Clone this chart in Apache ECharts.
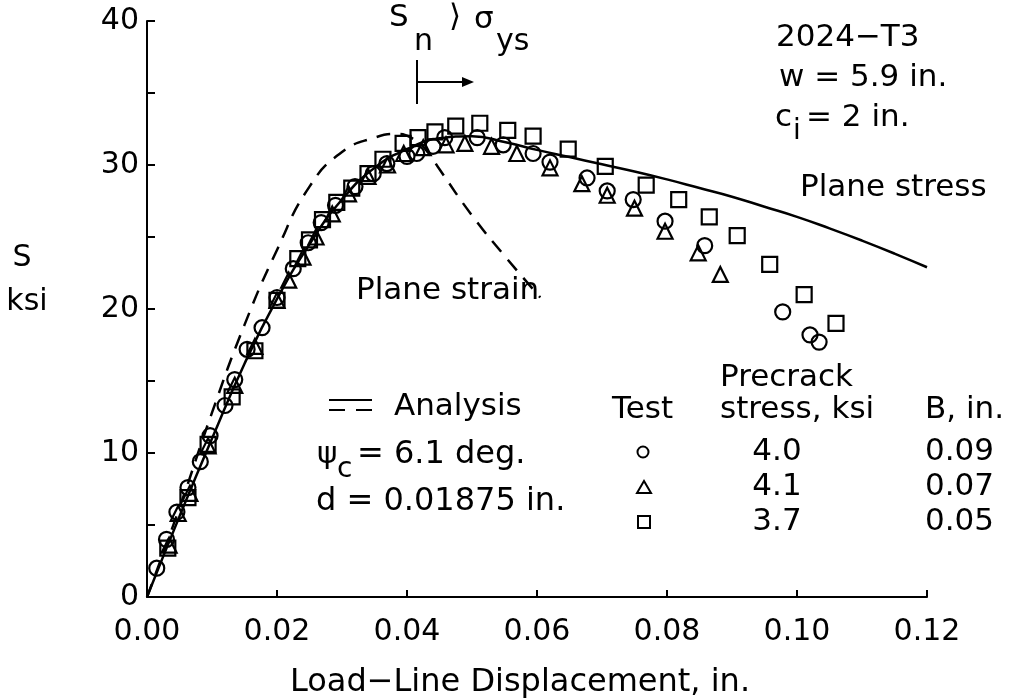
<!DOCTYPE html>
<html><head><meta charset="utf-8">
<script src="https://cdn.jsdelivr.net/npm/echarts@6/dist/echarts.min.js"></script>
<style>html,body{margin:0;padding:0;background:#fff}#c{width:1010px;height:698px}</style>
</head><body><div id="c"></div>
<script>
// Analysis curves
const planeStress = [[0,0],[0.005,5.6],[0.01,11.0],[0.015,16.2],[0.02,20.7],[0.025,24.5],[0.03,27.6],[0.035,29.8],[0.04,31.1],[0.045,31.85],[0.05,32.0],[0.055,31.6],[0.06,31.05],[0.065,30.55],[0.07,30.05],[0.075,29.55],[0.08,29.0],[0.085,28.4],[0.09,27.8],[0.095,27.1],[0.10,26.4],[0.105,25.6],[0.11,24.75],[0.115,23.85],[0.12,22.9]];
const planeStrain = [[0,0],[0.005,6.2],[0.01,12.8],[0.015,18.9],[0.02,24.1],[0.025,28.5],[0.03,30.9],[0.035,31.9],[0.0385,32.15],[0.041,31.8],[0.043,31.0],[0.045,29.7],[0.05,26.5],[0.055,23.7],[0.0605,20.8]];
// Test data
const testCircle = [[0.0015,2.0],[0.0030,4.0],[0.0046,5.9],[0.0063,7.6],[0.0082,9.4],[0.0097,11.2],[0.0120,13.3],[0.0135,15.1],[0.0154,17.2],[0.0177,18.7],[0.0200,20.8],[0.0225,22.8],[0.0248,24.6],[0.0268,26.0],[0.0290,27.2],[0.0320,28.5],[0.0348,29.4],[0.0369,30.1],[0.0400,30.6],[0.0415,30.8],[0.0440,31.3],[0.0458,31.9],[0.0508,31.9],[0.0548,31.4],[0.0594,30.8],[0.0620,30.2],[0.0677,29.1],[0.0708,28.2],[0.0748,27.6],[0.0797,26.1],[0.0858,24.4],[0.0978,19.8],[0.1020,18.2],[0.1034,17.7]];
const testTriangle = [[0.0034,3.6],[0.0048,5.8],[0.0066,7.2],[0.0094,10.5],[0.0135,14.7],[0.0166,17.4],[0.0200,20.6],[0.0218,22.0],[0.0240,23.6],[0.0260,25.0],[0.0285,26.6],[0.0310,28.0],[0.0340,29.2],[0.0370,30.0],[0.0395,30.8],[0.0425,31.2],[0.0460,31.4],[0.0489,31.5],[0.0530,31.3],[0.0569,30.8],[0.0620,29.8],[0.0669,28.7],[0.0708,27.9],[0.0750,27.0],[0.0797,25.4],[0.0848,23.9],[0.0882,22.4]];
const testSquare = [[0.0032,3.4],[0.0063,6.9],[0.0094,10.6],[0.0131,13.9],[0.0166,17.1],[0.0200,20.6],[0.0232,23.5],[0.0250,24.8],[0.0270,26.2],[0.0292,27.4],[0.0315,28.4],[0.0340,29.4],[0.0363,30.4],[0.0394,31.5],[0.0417,31.9],[0.0443,32.3],[0.0475,32.7],[0.0512,32.9],[0.0555,32.4],[0.0594,32.0],[0.0648,31.1],[0.0705,29.9],[0.0768,28.6],[0.0818,27.6],[0.0865,26.4],[0.0908,25.1],[0.0958,23.1],[0.1011,21.0],[0.1060,19.0]];
// Legend table
const legendPrecrack = ['4.0','4.1','3.7'];
const legendB = ['0.09','0.07','0.05'];

const F = 'DejaVu Sans';
const FS = 31;
const chart = echarts.init(document.getElementById('c'));
const marker = (sym, size) => ({
  type:'scatter', symbol:sym, symbolSize:size, z:5,
  itemStyle:{color:'rgba(0,0,0,0)', borderColor:'#000', borderWidth:2.2, opacity:1}
});
const T = (x, y, s, align, fs) => ({type:'text', x:x, y:y, z:10, style:{text:s, font:(fs||FS)+'px '+F, fill:'#000', textAlign:align||'left', textVerticalAlign:'middle'}});
const sub = (x, y, s, fs) => ({type:'text', x:x, y:y, z:10, style:{text:s, font:(fs||FS-3)+'px '+F, fill:'#000', textVerticalAlign:'middle'}});

const graphics = [
  T(22, 258, 'S', 'center', 30),
  T(27, 302, 'ksi', 'center', 30),
  T(520, 683, 'Load\u2212Line Displacement, in.', 'center', 32),
  // S_n > sigma_ys
  T(389, 18, 'S'), sub(414, 42, 'n', 30),
  T(449, 18, '\u27E9'), T(474, 20, '\u03C3'), sub(496, 42, 'ys', 30),
  {type:'line', z:10, shape:{x1:417, y1:60, x2:417, y2:104}, style:{stroke:'#000', lineWidth:2}},
  {type:'line', z:10, shape:{x1:417, y1:82, x2:466, y2:82}, style:{stroke:'#000', lineWidth:2}},
  {type:'polygon', z:10, shape:{points:[[474,82],[462,77],[462,87]]}, style:{fill:'#000'}},
  T(776, 38, '2024\u2212T3'),
  T(779, 78, 'w = 5.9 in.'),
  T(775, 118, 'c'), sub(793, 132, 'i'), T(806, 118, '= 2 in.'),
  T(800, 188, 'Plane stress'),
  T(356, 291, 'Plane strain'),
  {type:'line', z:10, shape:{x1:329, y1:400, x2:372, y2:400}, style:{stroke:'#000', lineWidth:2}},
  {type:'line', z:10, shape:{x1:329, y1:410, x2:372, y2:410}, style:{stroke:'#000', lineWidth:2, lineDash:[16,11]}},
  T(394, 407, 'Analysis'),
  T(317, 455, '\u03C8'), sub(337, 470, 'c'), T(357, 455, '= 6.1 deg.', 'left', 32),
  T(316, 502, 'd = 0.01875 in.', 'left', 32),
  T(720, 378, 'Precrack'),
  T(612, 410, 'Test'),
  T(720, 410, 'stress, ksi'),
  T(925, 410, 'B, in.'),
  {type:'circle', z:10, shape:{cx:643, cy:452, r:5.5}, style:{fill:'none', stroke:'#000', lineWidth:2}},
  {type:'polygon', z:10, shape:{points:[[644,481],[637,493],[651,493]]}, style:{fill:'none', stroke:'#000', lineWidth:2}},
  {type:'rect', z:10, shape:{x:638, y:516, width:12, height:12}, style:{fill:'none', stroke:'#000', lineWidth:2}}
];
legendPrecrack.forEach((v,i)=>graphics.push(T(777, 452+35*i, v, 'center')));
legendB.forEach((v,i)=>graphics.push(T(925, 452+35*i, v)));

chart.setOption({
  animation:false,
  backgroundColor:'#fff',
  grid:{left:147, right:83, top:21, bottom:101},
  xAxis:{type:'value', min:0, max:0.12, interval:0.02,
    axisLine:{lineStyle:{color:'#000', width:2}},
    axisTick:{inside:true, length:7, lineStyle:{color:'#000', width:2}},
    axisLabel:{color:'#000', fontFamily:F, fontSize:30, margin:20, formatter:v=>v.toFixed(2)},
    splitLine:{show:false}},
  yAxis:{type:'value', min:0, max:40, interval:10,
    axisLine:{show:true, lineStyle:{color:'#000', width:2}},
    axisTick:{show:true, inside:true, length:8, lineStyle:{color:'#000', width:2}},
    minorTick:{show:true, splitNumber:2, length:8, lineStyle:{color:'#000', width:2}},
    axisLabel:{color:'#000', fontFamily:F, fontSize:30, margin:8},
    splitLine:{show:false}},
  series:[
    {type:'line', data:planeStress, smooth:0.5, showSymbol:false, symbol:'none', lineStyle:{color:'#000', width:2.5}, z:3},
    {type:'line', data:planeStrain, smooth:0.5, showSymbol:false, symbol:'none', lineStyle:{color:'#000', width:2.5, type:[14,10]}, z:3},
    Object.assign(marker('circle', 15), {data:testCircle}),
    Object.assign(marker('triangle', 15), {data:testTriangle}),
    Object.assign(marker('rect', 15), {data:testSquare})
  ],
  graphic:graphics
});
</script></body></html>
